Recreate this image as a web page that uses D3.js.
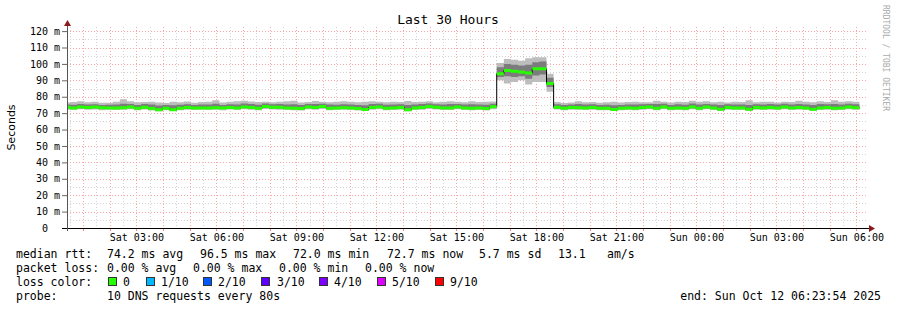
<!DOCTYPE html>
<html>
<head>
<meta charset="utf-8">
<script src="https://cdn.jsdelivr.net/npm/d3@7"></script>
<style>
  body { margin: 0; background: #fff; }
  svg { display: block; font-family: "DejaVu Sans Mono", monospace; }
  .pre { white-space: pre; }
</style>
</head>
<body>
<svg id="chart" width="897" height="310"></svg>
<script>
// median rtt per 960s step (ms), 8 steps per row
const medianRtt = [
  73.6, 73.2, 73.7, 73.4, 73.7, 73.3, 73.2, 73.2,
  73.3, 73.7, 73.0, 73.6, 72.8, 72.0, 73.0, 72.0,
  73.0, 73.5, 73.2, 73.2, 73.2, 73.3, 73.2, 73.5,
  73.2, 73.8, 73.5, 73.0, 74.0, 73.6, 73.6, 73.2,
  73.0, 72.8, 73.7, 73.5, 74.0, 73.0, 73.2, 73.3,
  73.2, 72.8, 72.2, 73.5, 73.8, 73.0, 73.2, 73.5,
  72.0, 73.2, 73.5, 74.0, 73.6, 73.2, 73.2, 73.7,
  73.2, 73.0, 73.2, 72.8, 73.9, 94.0, 96.0, 95.5,
  95.0, 94.5, 97.0, 97.0, 88.0, 73.6, 73.0, 73.5,
  73.3, 73.2, 73.5, 73.0, 73.0, 72.2, 73.0, 73.2,
  73.0, 73.5, 73.7, 73.0, 73.8, 73.0, 73.2, 73.0,
  73.7, 73.0, 73.7, 73.2, 72.3, 73.5, 73.2, 73.2,
  72.3, 73.5, 73.2, 73.5, 73.2, 73.7, 73.2, 73.5,
  73.2, 72.3, 73.2, 73.5, 73.0, 73.2, 73.7, 73.3
];
// slowest ping per step
const maxRtt = [
  76.5, 76.8, 77.2, 76.6, 76.9, 76.4, 76.3, 77.0,
  78.4, 77.2, 76.6, 76.8, 77.0, 76.5, 76.2, 76.9,
  76.7, 77.1, 76.4, 76.8, 77.0, 77.8, 76.5, 76.9,
  77.3, 77.6, 77.1, 76.8, 77.0, 76.6, 76.9, 77.2,
  77.5, 76.5, 76.8, 77.4, 76.9, 76.6, 77.0, 77.2,
  76.9, 76.7, 77.0, 77.3, 77.0, 76.6, 76.9, 76.8,
  77.4, 76.8, 77.0, 77.2, 76.7, 76.9, 77.3, 76.9,
  76.7, 77.2, 76.8, 77.0, 77.1, 100.5, 103.0, 102.5,
  102.0, 103.5, 104.0, 104.0, 94.0, 76.8, 76.2, 76.5,
  77.2, 76.6, 76.8, 76.4, 76.6, 76.9, 76.5, 76.8,
  77.0, 76.7, 76.6, 77.5, 76.9, 76.5, 77.0, 76.8,
  77.6, 77.0, 77.2, 76.6, 76.9, 76.5, 77.0, 76.8,
  77.8, 76.6, 76.9, 77.0, 76.5, 77.0, 76.8, 77.6,
  76.9, 76.7, 77.3, 76.8, 77.8, 76.9, 77.2, 77.0
];
// fastest ping per step
const minRtt = [
  72.1, 71.9, 72.3, 72.0, 72.2, 71.8, 72.0, 71.9,
  72.0, 72.3, 71.7, 72.2, 71.6, 71.2, 71.8, 71.3,
  71.8, 72.1, 71.9, 72.0, 71.9, 72.0, 71.8, 72.2,
  71.9, 72.4, 72.1, 71.7, 72.5, 72.2, 72.1, 71.9,
  71.7, 71.6, 72.3, 72.1, 72.6, 71.8, 71.9, 72.0,
  71.9, 71.6, 71.3, 72.1, 72.3, 71.8, 71.9, 72.1,
  71.2, 71.9, 72.1, 72.5, 72.2, 71.9, 71.9, 72.3,
  71.9, 71.7, 71.9, 71.6, 72.4, 90.0, 88.0, 89.0,
  90.0, 87.5, 89.0, 89.0, 83.0, 72.2, 71.8, 72.1,
  72.0, 71.9, 72.1, 71.8, 71.7, 71.3, 71.8, 71.9,
  71.8, 72.1, 72.3, 71.7, 72.4, 71.8, 71.9, 71.7,
  72.3, 71.8, 72.3, 71.9, 71.4, 72.1, 71.9, 71.9,
  71.4, 72.1, 71.9, 72.1, 71.9, 72.3, 71.9, 72.1,
  71.9, 71.4, 71.9, 72.1, 71.8, 71.9, 72.3, 72.0
];
// inner smoke band (upper / lower)
const upperRtt = [
  75.3, 75.1, 75.6, 75.2, 75.4, 75.0, 75.1, 75.3,
  75.8, 75.6, 75.0, 75.5, 75.2, 74.6, 75.0, 74.8,
  75.1, 75.4, 75.0, 75.2, 75.3, 75.7, 75.0, 75.4,
  75.3, 75.9, 75.6, 75.1, 75.9, 75.4, 75.5, 75.3,
  75.4, 74.9, 75.5, 75.6, 75.8, 75.2, 75.1, 75.4,
  75.3, 75.0, 74.8, 75.6, 75.7, 75.1, 75.2, 75.4,
  74.9, 75.2, 75.5, 75.9, 75.4, 75.3, 75.5, 75.6,
  75.2, 75.4, 75.2, 75.1, 75.8, 98.0, 100.0, 99.5,
  99.0, 99.5, 101.0, 101.5, 91.5, 75.4, 75.0, 75.3,
  75.6, 75.2, 75.4, 75.0, 75.1, 74.8, 75.0, 75.3,
  75.2, 75.4, 75.5, 75.6, 75.7, 75.0, 75.4, 75.1,
  75.9, 75.3, 75.6, 75.2, 75.0, 75.4, 75.3, 75.2,
  75.0, 75.4, 75.3, 75.5, 75.2, 75.8, 75.3, 75.6,
  75.3, 74.9, 75.5, 75.4, 75.6, 75.3, 75.7, 75.4
];
const lowerRtt = [
  72.9, 72.6, 73.0, 72.7, 73.0, 72.5, 72.6, 72.5,
  72.7, 73.0, 72.3, 72.9, 72.1, 71.5, 72.4, 71.6,
  72.4, 72.8, 72.5, 72.6, 72.5, 72.7, 72.5, 72.8,
  72.5, 73.1, 72.8, 72.3, 73.3, 72.9, 72.9, 72.5,
  72.3, 72.2, 73.0, 72.8, 73.3, 72.4, 72.5, 72.6,
  72.5, 72.2, 71.7, 72.8, 73.1, 72.4, 72.5, 72.8,
  71.5, 72.5, 72.8, 73.3, 72.9, 72.5, 72.5, 73.0,
  72.5, 72.3, 72.5, 72.1, 73.2, 92.0, 92.5, 92.0,
  92.5, 91.0, 93.0, 93.5, 86.0, 72.9, 72.4, 72.8,
  72.6, 72.5, 72.8, 72.4, 72.3, 71.6, 72.4, 72.5,
  72.4, 72.8, 73.0, 72.4, 73.1, 72.4, 72.5, 72.4,
  73.0, 72.4, 73.0, 72.5, 71.7, 72.8, 72.5, 72.5,
  71.7, 72.8, 72.5, 72.8, 72.5, 73.0, 72.5, 72.8,
  72.5, 71.7, 72.5, 72.8, 72.4, 72.5, 73.0, 72.6
];

const yTickValues = [0, 10, 20, 30, 40, 50, 60, 70, 80, 90, 100, 110, 120];
const yTickLabels = ["0  ", "10 m", "20 m", "30 m", "40 m", "50 m", "60 m", "70 m", "80 m", "90 m", "100 m", "110 m", "120 m"];

const rttStats = ["74.2 ms avg", "96.5 ms max", "72.0 ms min", "72.7 ms now", "5.7 ms sd", "13.1", "am/s"];
const lossStats = ["0.00 % avg", "0.00 % max", "0.00 % min", "0.00 % now"];
const lossLevels = ["0", "1/10", "2/10", "3/10", "4/10", "5/10", "9/10"];
const lossColors = ["#26ff00", "#00b8ff", "#0059ff", "#5e00ff", "#7e00ff", "#dd00ff", "#ff0000"];

const startTime = new Date(2025, 9, 11, 0, 23, 54);
const endTime = new Date(2025, 9, 12, 6, 23, 54);
const stepSec = 960;
const firstStep = new Date(startTime.getTime() - 547 * 1000);

const plotLeft = 67, plotRight = 867, plotTop = 27, plotBottom = 228;

const svg = d3.select("#chart");
svg.append("rect").attr("width", 897).attr("height", 310).attr("fill", "#fff");

const x = d3.scaleTime().domain([startTime, endTime]).range([plotLeft, plotRight]);
const y = d3.scaleLinear().domain([0, 122.5]).range([plotBottom, plotTop]);

// grid
const grid = svg.append("g").attr("shape-rendering", "crispEdges");
const minorX = d3.timeMinute.every(30).range(startTime, endTime);
const majorX = d3.timeHour.every(1).range(startTime, endTime);
grid.selectAll(".vmin").data(minorX).join("line")
  .attr("x1", d => Math.round(x(d)) + 0.5).attr("x2", d => Math.round(x(d)) + 0.5)
  .attr("y1", plotTop).attr("y2", plotBottom)
  .attr("stroke", "#d2d2d2").attr("stroke-dasharray", "1,2");
grid.selectAll(".hmin").data(d3.range(5, 121, 10)).join("line")
  .attr("x1", plotLeft).attr("x2", plotRight)
  .attr("y1", d => Math.round(y(d)) + 0.5).attr("y2", d => Math.round(y(d)) + 0.5)
  .attr("stroke", "#d2d2d2").attr("stroke-dasharray", "1,2");
grid.selectAll(".vmaj").data(majorX).join("line")
  .attr("x1", d => Math.round(x(d)) + 0.5).attr("x2", d => Math.round(x(d)) + 0.5)
  .attr("y1", plotTop).attr("y2", plotBottom)
  .attr("stroke", "#ffa4a4").attr("stroke-dasharray", "1,2");
grid.selectAll(".hmaj").data(yTickValues.slice(1)).join("line")
  .attr("x1", plotLeft).attr("x2", plotRight)
  .attr("y1", d => Math.round(y(d)) + 0.5).attr("y2", d => Math.round(y(d)) + 0.5)
  .attr("stroke", "#ffa4a4").attr("stroke-dasharray", "1,2");

// smoke + median, drawn as steps
svg.append("clipPath").attr("id", "plot")
  .append("rect").attr("x", plotLeft).attr("y", plotTop).attr("width", plotRight - plotLeft).attr("height", plotBottom - plotTop);
const plot = svg.append("g").attr("clip-path", "url(#plot)");

const n = medianRtt.length;
const steps = d3.range(n + 1).map(k => ({
  t: new Date(firstStep.getTime() + k * stepSec * 1000),
  i: Math.min(k, n - 1)
}));

const band = (lo, hi) => d3.area()
  .curve(d3.curveStepAfter)
  .x(d => x(d.t))
  .y0(d => y(lo[d.i]))
  .y1(d => y(hi[d.i]));

plot.append("path").datum(steps).attr("fill", "#bdbdbd").attr("d", band(minRtt, maxRtt));
plot.append("path").datum(steps).attr("fill", "#7c7c7c").attr("d", band(lowerRtt, upperRtt));

plot.append("path").datum(steps)
  .attr("fill", "none").attr("stroke", "#000").attr("stroke-width", 1)
  .attr("d", d3.line().curve(d3.curveStepAfter).x(d => x(d.t)).y(d => y(medianRtt[d.i])));

plot.append("path").datum(steps)
  .attr("fill", lossColors[0])
  .attr("d", d3.area().curve(d3.curveStepAfter)
    .x(d => x(d.t))
    .y0(d => y(medianRtt[d.i]) + 1.5)
    .y1(d => y(medianRtt[d.i]) - 1.5));

// axes
const yAxis = svg.append("g")
  .attr("transform", `translate(${plotLeft},0)`)
  .call(d3.axisLeft(y).tickValues(yTickValues).tickFormat((d, i) => yTickLabels[i]).tickSize(5).tickPadding(2));
yAxis.select(".domain").remove();
yAxis.selectAll("line").attr("stroke", "#666");
yAxis.selectAll("text").attr("class", "pre").attr("font-size", 10)
  .attr("font-family", "DejaVu Sans Mono").attr("fill", "#000");

const xAxis = svg.append("g")
  .attr("transform", `translate(0,${plotBottom})`)
  .call(d3.axisBottom(x).ticks(d3.timeHour.every(3)).tickFormat(d3.timeFormat("%a %H:%M")).tickSize(0).tickPadding(6));
xAxis.select(".domain").remove();
xAxis.selectAll("text").attr("font-size", 10).attr("font-family", "DejaVu Sans Mono").attr("fill", "#000");

// small ticks under the time axis
svg.append("g").selectAll("line").data(majorX).join("line")
  .attr("x1", d => Math.round(x(d)) + 0.5).attr("x2", d => Math.round(x(d)) + 0.5)
  .attr("y1", plotBottom + 1).attr("y2", plotBottom + 3)
  .attr("stroke", "#ff8080");

svg.append("line").attr("x1", 62).attr("x2", 870).attr("y1", plotBottom + 0.5).attr("y2", plotBottom + 0.5)
  .attr("stroke", "#000").attr("shape-rendering", "crispEdges");
svg.append("line").attr("x1", plotLeft + 0.5).attr("x2", plotLeft + 0.5).attr("y1", plotBottom + 3).attr("y2", 24)
  .attr("stroke", "#555").attr("shape-rendering", "crispEdges");
svg.append("path").attr("d", "M869,225L875,228.5L869,232Z").attr("fill", "#8b1a1a");
svg.append("path").attr("d", "M64,26L67.5,20L71,26Z").attr("fill", "#8b1a1a");

// titles
svg.append("text").attr("x", 448).attr("y", 24).attr("text-anchor", "middle")
  .attr("font-size", 13).text("Last 30 Hours");
svg.append("text").attr("transform", `translate(15,${(plotTop + plotBottom) / 2}) rotate(-90)`)
  .attr("text-anchor", "middle").attr("font-size", 11).attr("font-family", "DejaVu Sans")
  .text("Seconds");
svg.append("text").attr("transform", "translate(883,5) rotate(90)")
  .attr("font-size", 8).attr("fill", "#aaa").text("RRDTOOL / TOBI OETIKER");

// legend
const legend = svg.append("g").attr("font-size", 11.5).attr("fill", "#000");
const rowY = [258, 272, 286, 300];
const rttX = [107, 200, 293, 387, 479, 558, 607];
const lossX = [107, 193, 279, 365];
const swatchX = [108, 146, 203, 261, 319, 377, 435];
const levelX = [123, 161, 218, 277, 334, 392, 450];

legend.append("text").attr("x", 16).attr("y", rowY[0]).text("median rtt:");
legend.selectAll(".rtt").data(rttStats).join("text")
  .attr("x", (d, i) => rttX[i]).attr("y", rowY[0]).text(d => d);

legend.append("text").attr("x", 16).attr("y", rowY[1]).text("packet loss:");
legend.selectAll(".loss").data(lossStats).join("text")
  .attr("x", (d, i) => lossX[i]).attr("y", rowY[1]).text(d => d);

legend.append("text").attr("x", 16).attr("y", rowY[2]).text("loss color:");
legend.selectAll(".sw").data(lossColors).join("rect")
  .attr("x", (d, i) => swatchX[i] + 0.5).attr("y", 277.5)
  .attr("width", 8).attr("height", 8)
  .attr("fill", d => d).attr("stroke", "#333");
legend.selectAll(".lvl").data(lossLevels).join("text")
  .attr("x", (d, i) => levelX[i]).attr("y", rowY[2]).text(d => d);

legend.append("text").attr("x", 16).attr("y", rowY[3]).text("probe:");
legend.append("text").attr("x", 107).attr("y", rowY[3]).text("10 DNS requests every 80s");
legend.append("text").attr("x", 881).attr("y", rowY[3]).attr("text-anchor", "end")
  .text("end: Sun Oct 12 06:23:54 2025");
</script>
</body>
</html>
